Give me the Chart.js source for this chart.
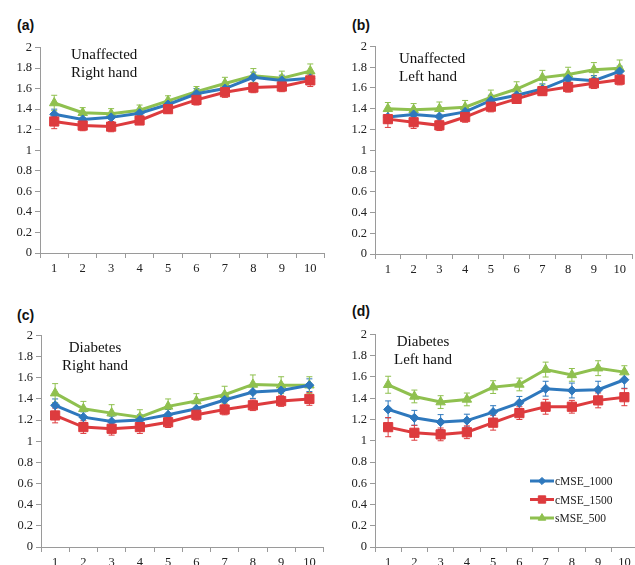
<!DOCTYPE html>
<html>
<head>
<meta charset="utf-8">
<script src="https://cdn.jsdelivr.net/npm/chart.js@4.4.1/dist/chart.umd.min.js"></script>
<style>
  html, body { margin: 0; padding: 0; background: #fff; width: 635px; height: 565px; overflow: hidden; position: relative; }
  .pane { position: absolute; }
  .tag { position: absolute; font: bold 14px "Liberation Sans", Arial, sans-serif; color: #111; line-height: 16px; }
  .note { position: absolute; font: 15px "Liberation Serif", "Times New Roman", serif; color: #111; line-height: 18px; }
</style>
</head>
<body>
<div class="tag" style="left:17px;top:17px">(a)</div>
<div class="tag" style="left:352px;top:17px">(b)</div>
<div class="tag" style="left:17px;top:307px">(c)</div>
<div class="tag" style="left:352px;top:303px">(d)</div>

<div class="pane" id="pa"><canvas id="ca"></canvas></div>
<div class="pane" id="pb"><canvas id="cb"></canvas></div>
<div class="pane" id="pc"><canvas id="cc"></canvas></div>
<div class="pane" id="pd"><canvas id="cd"></canvas></div>

<div class="note" style="left:71px;top:45px">Unaffected<br>Right hand</div>
<div class="note" style="left:399px;top:49px">Unaffected<br>Left hand</div>
<div class="note" style="left:45px;top:338px;width:100px;text-align:center">Diabetes<br>Right hand</div>
<div class="note" style="left:373px;top:332px;width:100px;text-align:center">Diabetes<br>Left hand</div>

<script>
'use strict';

// data
const xLabels = ['1', '2', '3', '4', '5', '6', '7', '8', '9', '10'];
const yTicks = [0, 0.2, 0.4, 0.6, 0.8, 1, 1.2, 1.4, 1.6, 1.8, 2];
const seriesNames = ['cMSE_1000', 'cMSE_1500', 'sMSE_500'];

// (a) unaffected right hand
const aBlue  = [1.35, 1.30, 1.32, 1.36, 1.445, 1.55, 1.60, 1.71, 1.68, 1.70];
const aRed   = [1.28, 1.24, 1.23, 1.29, 1.40, 1.49, 1.565, 1.61, 1.62, 1.68];
const aGreen = [1.46, 1.365, 1.355, 1.39, 1.48, 1.57, 1.65, 1.725, 1.70, 1.77];
const aBlueErr  = [0.05, 0.04, 0.04, 0.04, 0.04, 0.05, 0.05, 0.05, 0.05, 0.05];
const aRedErr   = [0.07, 0.05, 0.05, 0.04, 0.04, 0.05, 0.05, 0.05, 0.05, 0.06];
const aGreenErr = [0.075, 0.05, 0.05, 0.05, 0.05, 0.05, 0.06, 0.07, 0.07, 0.07];

// (b) unaffected left hand
const bBlue  = [1.32, 1.345, 1.325, 1.37, 1.48, 1.53, 1.59, 1.69, 1.67, 1.76];
const bRed   = [1.30, 1.27, 1.24, 1.32, 1.42, 1.495, 1.57, 1.61, 1.645, 1.68];
const bGreen = [1.40, 1.39, 1.40, 1.415, 1.51, 1.59, 1.70, 1.73, 1.775, 1.79];
const bBlueErr  = [0.06, 0.05, 0.05, 0.05, 0.05, 0.05, 0.05, 0.05, 0.05, 0.05];
const bRedErr   = [0.08, 0.06, 0.05, 0.05, 0.05, 0.04, 0.04, 0.05, 0.05, 0.05];
const bGreenErr = [0.06, 0.06, 0.065, 0.065, 0.07, 0.07, 0.07, 0.07, 0.07, 0.08];

// (c) diabetes right hand
const cBlue  = [1.34, 1.228, 1.187, 1.20, 1.25, 1.307, 1.39, 1.465, 1.48, 1.53];
const cRed   = [1.244, 1.134, 1.118, 1.134, 1.18, 1.25, 1.30, 1.34, 1.38, 1.40];
const cGreen = [1.455, 1.307, 1.266, 1.228, 1.33, 1.38, 1.44, 1.537, 1.53, 1.53];
const cBlueErr  = [0.06, 0.05, 0.05, 0.05, 0.05, 0.05, 0.06, 0.06, 0.06, 0.06];
const cRedErr   = [0.07, 0.06, 0.06, 0.06, 0.05, 0.05, 0.05, 0.05, 0.05, 0.06];
const cGreenErr = [0.09, 0.07, 0.08, 0.07, 0.07, 0.07, 0.08, 0.09, 0.08, 0.08];

// (d) diabetes left hand
const dBlue  = [1.295, 1.216, 1.176, 1.19, 1.27, 1.357, 1.49, 1.473, 1.48, 1.574];
const dRed   = [1.128, 1.075, 1.06, 1.08, 1.17, 1.26, 1.32, 1.32, 1.38, 1.41];
const dGreen = [1.527, 1.417, 1.364, 1.389, 1.505, 1.53, 1.67, 1.62, 1.683, 1.646];
const dBlueErr  = [0.08, 0.07, 0.07, 0.06, 0.06, 0.06, 0.07, 0.07, 0.08, 0.08];
const dRedErr   = [0.09, 0.07, 0.06, 0.06, 0.07, 0.06, 0.07, 0.06, 0.07, 0.08];
const dGreenErr = [0.08, 0.06, 0.06, 0.06, 0.06, 0.06, 0.07, 0.06, 0.07, 0.06];

const COLORS = ['#2e78bd', '#dd3b3e', '#8fc04f'];
const SHAPES = [
  { style: 'rectRot', r: 4.5 },
  { style: 'rect', r: 6.5 },
  { style: 'triangle', r: 5.5 }
];
const Y_W = 35, X_H = 25, PAD_TOP = 10;

// error bars drawn under the lines
const errorBars = {
  id: 'errorBars',
  beforeDatasetsDraw(chart) {
    const ctx = chart.ctx;
    const ys = chart.scales.y;
    chart.data.datasets.forEach((ds, di) => {
      const meta = chart.getDatasetMeta(di);
      ctx.save();
      ctx.strokeStyle = ds.borderColor;
      ctx.lineWidth = 1;
      meta.data.forEach((pt, i) => {
        const v = ds.data[i], e = ds.errs[i];
        const y1 = ys.getPixelForValue(v + e), y2 = ys.getPixelForValue(v - e);
        ctx.beginPath();
        ctx.moveTo(pt.x, y1); ctx.lineTo(pt.x, y2);
        ctx.moveTo(pt.x - 3, y1); ctx.lineTo(pt.x + 3, y1);
        ctx.moveTo(pt.x - 3, y2); ctx.lineTo(pt.x + 3, y2);
        ctx.stroke();
      });
      ctx.restore();
    });
  }
};

// legend inside panel (d)
const boxLegend = {
  id: 'boxLegend',
  afterDraw(chart, args, opts) {
    if (!opts.show) return;
    const ctx = chart.ctx;
    ctx.save();
    ctx.font = '11.5px "Liberation Serif", "Times New Roman", serif';
    ctx.textBaseline = 'middle';
    chart.data.datasets.forEach((ds, i) => {
      const y = opts.y + i * opts.gap;
      ctx.strokeStyle = ds.borderColor;
      ctx.lineWidth = 3;
      ctx.beginPath();
      ctx.moveTo(opts.x, y); ctx.lineTo(opts.x + 24, y);
      ctx.stroke();
      ctx.fillStyle = ds.borderColor;
      ctx.lineWidth = 1;
      Chart.helpers.drawPoint(ctx, { pointStyle: ds.pointStyle, radius: ds.pointRadius * 0.8, borderWidth: 1 }, opts.x + 12, y);
      ctx.fillStyle = '#222';
      ctx.fillText(ds.label, opts.x + 25, y + 1);
    });
    ctx.restore();
  }
};

function makePanel(canvasId, paneId, axisX, top, bottom, plotW, series, errs, legend) {
  const pane = document.getElementById(paneId);
  const w = Y_W + plotW, h = (bottom - top) + PAD_TOP + X_H;
  pane.style.left = (axisX - Y_W) + 'px';
  pane.style.top = (top - PAD_TOP) + 'px';
  pane.style.width = w + 'px';
  pane.style.height = h + 'px';

  const datasets = series.map((vals, i) => ({
    label: seriesNames[i],
    data: vals,
    errs: errs[i],
    borderColor: COLORS[i],
    backgroundColor: COLORS[i],
    borderWidth: 3,
    pointStyle: SHAPES[i].style,
    pointRadius: SHAPES[i].r,
    pointBorderWidth: 1,
    tension: 0,
    clip: false
  }));
  // draw the green line at the back, like the reference
  const order = [1, 0, 2];
  datasets.forEach((d, i) => { d.order = order[i]; });

  new Chart(document.getElementById(canvasId), {
    type: 'line',
    data: { labels: xLabels, datasets },
    options: {
      responsive: true,
      maintainAspectRatio: false,
      animation: false,
      layout: { padding: { top: PAD_TOP, right: 0, left: 0, bottom: 0 } },
      plugins: {
        legend: { display: false },
        tooltip: { enabled: false },
        boxLegend: legend || { show: false }
      },
      scales: {
        x: {
          offset: true,
          grid: { display: true, offset: true, drawOnChartArea: false, drawTicks: true, tickLength: 5, color: '#9a9a9a' },
          border: { display: true, color: '#9a9a9a' },
          ticks: { color: '#222', padding: 3, maxRotation: 0, autoSkip: false, font: { family: '"Liberation Serif", "Times New Roman", serif', size: 12.5 } },
          afterFit(s) { s.height = X_H; }
        },
        y: {
          min: 0, max: 2,
          afterBuildTicks(s) { s.ticks = yTicks.map(v => ({ value: v })); },
          grid: { display: true, drawOnChartArea: false, drawTicks: true, tickLength: 5, color: '#9a9a9a' },
          border: { display: true, color: '#9a9a9a' },
          ticks: {
            color: '#222', padding: 3,
            font: { family: '"Liberation Serif", "Times New Roman", serif', size: 12.5 },
            callback: v => String(+Number(v).toFixed(1))
          },
          afterFit(s) { s.width = Y_W; }
        }
      }
    },
    plugins: [errorBars, boxLegend]
  });
}

makePanel('ca', 'pa', 40, 47, 253, 292, [aBlue, aRed, aGreen], [aBlueErr, aRedErr, aGreenErr]);
makePanel('cb', 'pb', 375, 46, 254, 265, [bBlue, bRed, bGreen], [bBlueErr, bRedErr, bGreenErr]);
makePanel('cc', 'pc', 41, 335, 547, 290, [cBlue, cRed, cGreen], [cBlueErr, cRedErr, cGreenErr]);
makePanel('cd', 'pd', 375, 334, 547, 270, [dBlue, dRed, dGreen], [dBlueErr, dRedErr, dGreenErr],
  { show: true, x: 190, y: 157, gap: 18.5 });
</script>
</body>
</html>
